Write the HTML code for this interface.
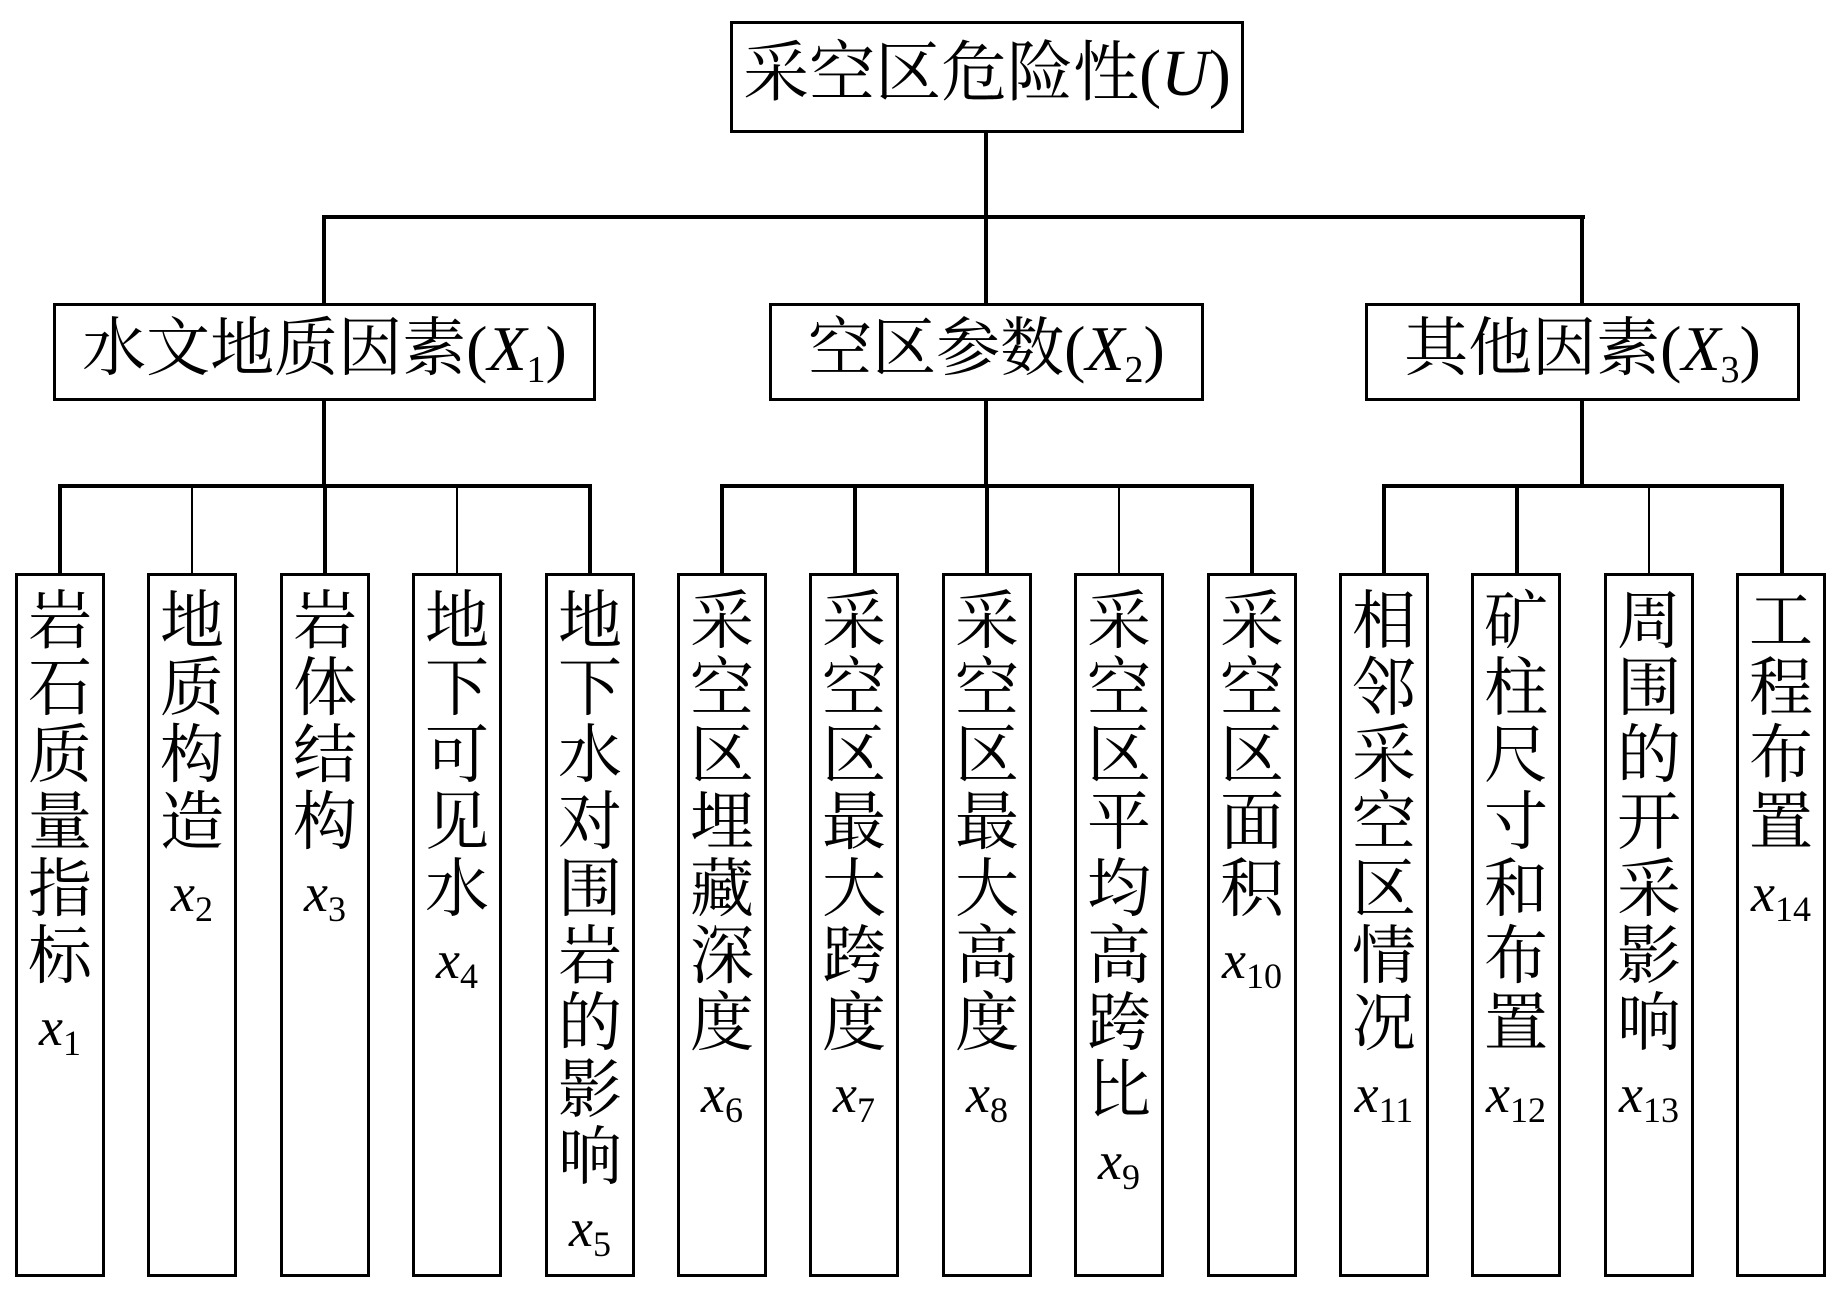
<!DOCTYPE html>
<html><head><meta charset="utf-8"><style>
body{margin:0;width:1843px;height:1296px;background:#fff;position:relative;overflow:hidden;font-family:"Liberation Serif","Noto Serif CJK SC",serif;color:#000}
.b{position:absolute;border:3.5px solid #000;box-sizing:border-box;background:#fff}
.l{position:absolute;background:#000}
.t{position:absolute;white-space:nowrap;text-align:center}
.leaf{position:absolute;top:573px;width:90px;height:704px;border:3.5px solid #000;box-sizing:border-box;text-align:center;font-size:64px;line-height:67px;padding-top:12px}
.leaf i{font-size:54px;font-family:"Liberation Serif",serif}
.leaf sub{font-style:normal;font-size:36px;vertical-align:-10px;line-height:0}
i{font-family:"Liberation Serif",serif}
.h sub{font-size:38px;vertical-align:-12px;line-height:0}
</style></head><body>
<div class="b" style="left:730px;top:21px;width:514px;height:112px"></div>
<div class="t" style="left:730px;top:36px;width:514px;font-size:66px;line-height:76px">采空区危险性(<i>U</i>)</div>

<div class="l" style="left:984px;top:131px;width:3.5px;height:87px"></div>
<div class="l" style="left:322px;top:215px;width:1263px;height:3.5px"></div>
<div class="l" style="left:322px;top:215px;width:3.5px;height:90px"></div>
<div class="l" style="left:984px;top:215px;width:3.5px;height:90px"></div>
<div class="l" style="left:1580px;top:215px;width:3.5px;height:90px"></div>

<div class="b" style="left:53px;top:303px;width:543px;height:98px"></div>
<div class="b" style="left:769px;top:303px;width:435px;height:98px"></div>
<div class="b" style="left:1365px;top:303px;width:435px;height:98px"></div>
<div class="t h" style="left:53px;top:313px;width:543px;font-size:64px;line-height:72px">水文地质因素(<i>X</i><sub>1</sub>)</div>
<div class="t h" style="left:769px;top:313px;width:435px;font-size:64px;line-height:72px">空区参数(<i>X</i><sub>2</sub>)</div>
<div class="t h" style="left:1365px;top:313px;width:435px;font-size:64px;line-height:72px">其他因素(<i>X</i><sub>3</sub>)</div>

<div class="l" style="left:322px;top:400px;width:3.5px;height:87px"></div>
<div class="l" style="left:984px;top:400px;width:3.5px;height:87px"></div>
<div class="l" style="left:1580px;top:400px;width:3.5px;height:87px"></div>

<div class="l" style="left:58px;top:484px;width:534px;height:3.5px"></div>
<div class="l" style="left:720px;top:484px;width:534px;height:3.5px"></div>
<div class="l" style="left:1382px;top:484px;width:402px;height:3.5px"></div>

<div class="l" style="left:58px;top:484px;width:3.5px;height:90px"></div>
<div class="l" style="left:191px;top:484px;width:2px;height:90px"></div>
<div class="l" style="left:323px;top:484px;width:3.5px;height:90px"></div>
<div class="l" style="left:456px;top:484px;width:2px;height:90px"></div>
<div class="l" style="left:588px;top:484px;width:3.5px;height:90px"></div>
<div class="l" style="left:720px;top:484px;width:3.5px;height:90px"></div>
<div class="l" style="left:853px;top:484px;width:3.5px;height:90px"></div>
<div class="l" style="left:985px;top:484px;width:3.5px;height:90px"></div>
<div class="l" style="left:1118px;top:484px;width:2px;height:90px"></div>
<div class="l" style="left:1250px;top:484px;width:3.5px;height:90px"></div>
<div class="l" style="left:1382px;top:484px;width:3.5px;height:90px"></div>
<div class="l" style="left:1515px;top:484px;width:3.5px;height:90px"></div>
<div class="l" style="left:1648px;top:484px;width:2px;height:90px"></div>
<div class="l" style="left:1780px;top:484px;width:3.5px;height:90px"></div>

<div class="leaf" style="left:15px">岩<br>石<br>质<br>量<br>指<br>标<br><i>x</i><sub>1</sub></div>
<div class="leaf" style="left:147px">地<br>质<br>构<br>造<br><i>x</i><sub>2</sub></div>
<div class="leaf" style="left:280px">岩<br>体<br>结<br>构<br><i>x</i><sub>3</sub></div>
<div class="leaf" style="left:412px">地<br>下<br>可<br>见<br>水<br><i>x</i><sub>4</sub></div>
<div class="leaf" style="left:545px">地<br>下<br>水<br>对<br>围<br>岩<br>的<br>影<br>响<br><i>x</i><sub>5</sub></div>
<div class="leaf" style="left:677px">采<br>空<br>区<br>埋<br>藏<br>深<br>度<br><i>x</i><sub>6</sub></div>
<div class="leaf" style="left:809px">采<br>空<br>区<br>最<br>大<br>跨<br>度<br><i>x</i><sub>7</sub></div>
<div class="leaf" style="left:942px">采<br>空<br>区<br>最<br>大<br>高<br>度<br><i>x</i><sub>8</sub></div>
<div class="leaf" style="left:1074px">采<br>空<br>区<br>平<br>均<br>高<br>跨<br>比<br><i>x</i><sub>9</sub></div>
<div class="leaf" style="left:1207px">采<br>空<br>区<br>面<br>积<br><i>x</i><sub>10</sub></div>
<div class="leaf" style="left:1339px">相<br>邻<br>采<br>空<br>区<br>情<br>况<br><i>x</i><sub>11</sub></div>
<div class="leaf" style="left:1471px">矿<br>柱<br>尺<br>寸<br>和<br>布<br>置<br><i>x</i><sub>12</sub></div>
<div class="leaf" style="left:1604px">周<br>围<br>的<br>开<br>采<br>影<br>响<br><i>x</i><sub>13</sub></div>
<div class="leaf" style="left:1736px">工<br>程<br>布<br>置<br><i>x</i><sub>14</sub></div>
</body></html>
